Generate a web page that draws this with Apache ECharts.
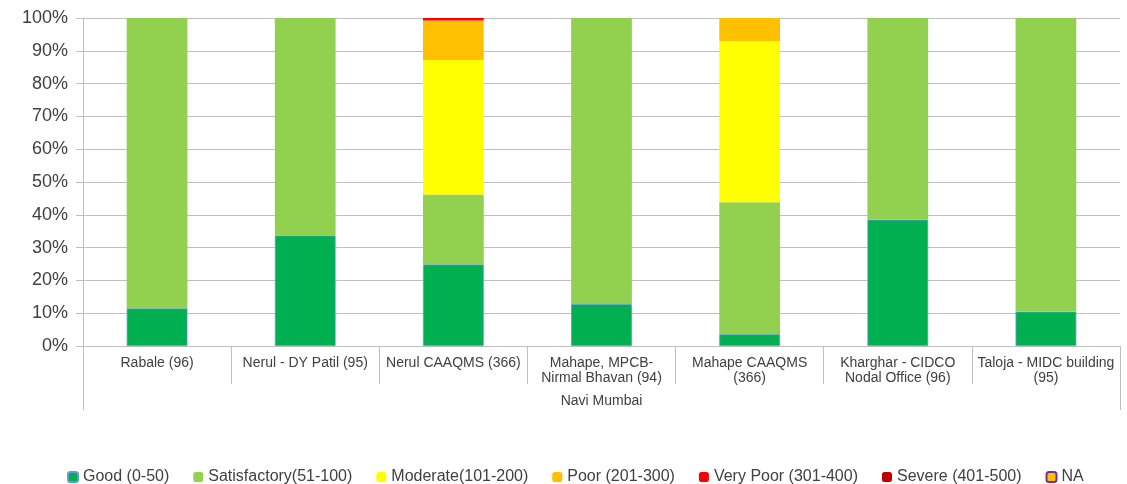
<!DOCTYPE html>
<html>
<head>
<meta charset="utf-8">
<script src="https://cdn.jsdelivr.net/npm/echarts@6/dist/echarts.min.js"></script>
<style>
  html, body { margin: 0; padding: 0; background: #fff; }
  #chart { width: 1127px; height: 484px; }
</style>
</head>
<body>
<div id="chart"></div>
<script>
// Monitoring stations (days monitored in brackets)
const stations = [
  'Rabale (96)',
  'Nerul - DY Patil (95)',
  'Nerul CAAQMS (366)',
  'Mahape, MPCB-\nNirmal Bhavan (94)',
  'Mahape CAAQMS\n(366)',
  'Kharghar - CIDCO\nNodal Office (96)',
  'Taloja - MIDC building\n(95)'
];
const region = ['Navi Mumbai'];

// Share of days (%) in each AQI band
const good         = [11.5, 33.7, 24.9, 12.8, 3.6, 38.5, 10.5];
const satisfactory = [88.5, 66.3, 21.3, 87.2, 40.2, 61.5, 89.5];
const moderate     = [0, 0, 41.0, 0, 49.2, 0, 0];
const poor         = [0, 0, 12.0, 0, 7.0, 0, 0];
const veryPoor     = [0, 0, 0.8, 0, 0, 0, 0];
const severe       = [0, 0, 0, 0, 0, 0, 0];
const na           = [0, 0, 0, 0, 0, 0, 0];

const yTicks = { min: 0, max: 100, interval: 10 };

const FONT = 'Liberation Sans, Arial, sans-serif';
const TEXT = '#404040';
const LINE = '#bfbfbf';

function band(name, data, color, extra) {
  return {
    name: name,
    type: 'bar',
    stack: 'aqi',
    // empty bands are left out so no zero-height outline is drawn
    data: data.map(v => (v > 0 ? v : null)),
    barWidth: '41%',
    xAxisIndex: 0,
    itemStyle: Object.assign({ color: color }, extra || {}),
    emphasis: { disabled: true }
  };
}

const chart = echarts.init(document.getElementById('chart'));
chart.setOption({
  animation: false,
  grid: { left: 83, right: 7, top: 18, bottom: 138 },
  legend: {
    top: 464,
    left: 62,
    itemWidth: 10,
    itemHeight: 10,
    itemGap: 24,
    textStyle: { fontFamily: FONT, fontSize: 16, color: TEXT },
    data: ['Good (0-50)', 'Satisfactory(51-100)', 'Moderate(101-200)', 'Poor (201-300)',
           'Very Poor (301-400)', 'Severe (401-500)', 'NA']
  },
  xAxis: [
    {
      type: 'category',
      data: stations,
      position: 'bottom',
      axisLine: { lineStyle: { color: LINE, width: 1 } },
      axisTick: { show: true, interval: 0, length: 38, lineStyle: { color: LINE } },
      axisLabel: {
        interval: 0,
        margin: 10,
        fontFamily: FONT,
        fontSize: 14,
        lineHeight: 15,
        color: TEXT
      }
    },
    {
      type: 'category',
      data: region,
      position: 'bottom',
      axisLine: { show: false },
      axisTick: { show: true, interval: 0, length: 64, lineStyle: { color: LINE } },
      axisLabel: {
        interval: 0,
        margin: 48,
        fontFamily: FONT,
        fontSize: 14,
        color: TEXT
      }
    }
  ],
  yAxis: {
    type: 'value',
    min: yTicks.min,
    max: yTicks.max,
    interval: yTicks.interval,
    axisLine: { show: true, lineStyle: { color: LINE } },
    axisTick: { show: true, length: 7, lineStyle: { color: LINE } },
    splitLine: { lineStyle: { color: LINE, width: 1 } },
    axisLabel: {
      margin: 15,
      formatter: '{value}%',
      fontFamily: FONT,
      fontSize: 18,
      color: TEXT
    }
  },
  series: [
    band('Good (0-50)', good, '#00b050', { borderColor: '#5b9bd5', borderWidth: 0.8 }),
    band('Satisfactory(51-100)', satisfactory, '#92d050'),
    band('Moderate(101-200)', moderate, '#ffff00'),
    band('Poor (201-300)', poor, '#ffc000'),
    band('Very Poor (301-400)', veryPoor, '#ff0000'),
    band('Severe (401-500)', severe, '#c00000'),
    band('NA', na, '#ffc000', { borderColor: '#7030a0', borderWidth: 2 })
  ]
});
</script>
</body>
</html>
